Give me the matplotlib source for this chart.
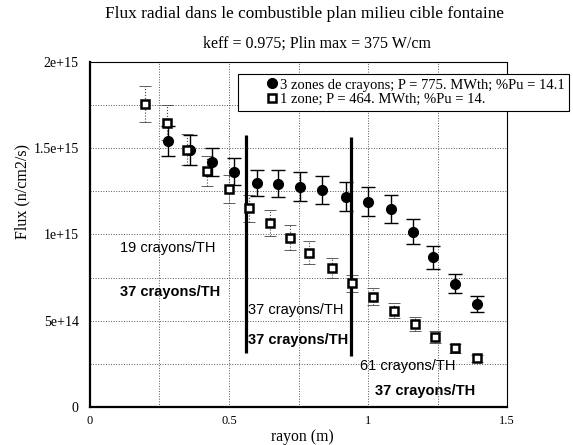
import numpy as np
import matplotlib.pyplot as plt
from matplotlib.ticker import MultipleLocator

SERIF = ['Liberation Serif', 'DejaVu Serif']
SANS = ['Liberation Sans', 'DejaVu Sans']

# 3 zones de crayons (filled circles)
r_3z = [0.282, 0.358, 0.439, 0.517, 0.601, 0.677, 0.754, 0.836, 0.922,
        1.001, 1.082, 1.160, 1.235, 1.313, 1.391]
flux_3z = [1.542, 1.490, 1.418, 1.364, 1.297, 1.293, 1.277, 1.258, 1.219,
           1.190, 1.146, 1.016, 0.868, 0.713, 0.597]
err_3z = [0.085, 0.085, 0.080, 0.077, 0.077, 0.079, 0.082, 0.083, 0.082,
          0.085, 0.082, 0.073, 0.066, 0.055, 0.045]

# 1 zone (open squares)
r_1z = [0.198, 0.276, 0.349, 0.421, 0.499, 0.573, 0.646, 0.719, 0.787,
        0.869, 0.944, 1.016, 1.094, 1.168, 1.242, 1.314, 1.391]
flux_1z = [1.755, 1.648, 1.490, 1.368, 1.262, 1.152, 1.065, 0.982, 0.895,
           0.804, 0.717, 0.639, 0.558, 0.479, 0.408, 0.340, 0.282]
err_1z = [0.105, 0.100, 0.090, 0.085, 0.080, 0.078, 0.077, 0.075, 0.068,
          0.058, 0.050, 0.048, 0.045, 0.040, 0.035, 0.025, 0.020]

scale = 1e15
labels = ['3 zones de crayons; P = 775. MWth; %Pu = 14.1',
          '1 zone; P = 464. MWth; %Pu = 14.']

# zone boundaries (x, ymin, ymax in 1e15)
bound_x = [0.561, 0.940]
bound_ymin = [0.313, 0.296]
bound_ymax = [1.577, 1.563]

# zone annotations: text, x, y (1e15), bold
notes = [('19 crayons/TH', 0.108, 0.92, False),
         ('37 crayons/TH', 0.108, 0.667, True),
         ('37 crayons/TH', 0.568, 0.562, False),
         ('37 crayons/TH', 0.568, 0.388, True),
         ('61 crayons/TH', 0.971, 0.24, False),
         ('37 crayons/TH', 1.024, 0.093, True)]

yticks = [0, 0.5, 1.0, 1.5, 2.0]
yticklabels = ['0', '5e+14', '1e+15', '1.5e+15', '2e+15']
xticks = [0, 0.5, 1.0, 1.5]
xticklabels = ['0', '0.5', '1', '1.5']

fig = plt.figure(figsize=(5.73, 4.45), dpi=100)
ax = fig.add_axes([0.157, 0.0854, 0.728, 0.7756])

y3 = np.array(flux_3z) * scale
y1 = np.array(flux_1z) * scale

eb1 = ax.errorbar(r_1z, y1, yerr=np.array(err_1z) * scale, fmt='none',
                  ecolor='#444444', elinewidth=0.8, capsize=4, capthick=0.6,
                  zorder=3)
eb1[2][0].set_linestyle(':')
for cap in eb1[1]:
    cap.set_color('#888888')

ax.errorbar(r_3z, y3, yerr=np.array(err_3z) * scale, fmt='none',
            ecolor='black', elinewidth=1.0, capsize=5, capthick=1.0, zorder=3)

ax.plot(r_3z, y3, 'o', color='black', markersize=7, label=labels[0], zorder=5)
ax.plot(r_1z, y1, 's', markerfacecolor='white', markeredgecolor='black',
        markeredgewidth=1.8, markersize=6, label=labels[1], zorder=5)

for x, y0, y1b in zip(bound_x, bound_ymin, bound_ymax):
    ax.vlines(x, y0 * scale, y1b * scale, color='black', linewidth=2.3, zorder=4)

for txt, x, y, bold in notes:
    ax.text(x, y * scale, txt, family=SANS, fontsize=10.5,
            fontweight='bold' if bold else 'normal', va='center', ha='left',
            zorder=6)

ax.set_xlim(0, 1.5)
ax.set_ylim(0, 2e15)
ax.set_xticks(xticks)
ax.set_xticklabels(xticklabels, family=SERIF, fontsize=9)
ax.set_yticks(np.array(yticks) * scale)
ax.set_yticklabels(yticklabels, family=SERIF, fontsize=10)
ax.xaxis.set_minor_locator(MultipleLocator(0.25))
ax.yaxis.set_minor_locator(MultipleLocator(0.25e15))
ax.tick_params(which='both', length=0)
ax.tick_params(axis='y', pad=8)
ax.tick_params(axis='x', pad=6)
ax.grid(True, which='both', linestyle=':', color='#555555', linewidth=0.7)
ax.set_axisbelow(True)
for side in ['left', 'bottom']:
    ax.spines[side].set_linewidth(1.6)
for side in ['top', 'right']:
    ax.spines[side].set_linewidth(0.8)

ax.set_xlabel('rayon (m)', family=SERIF, fontsize=11.3)
ax.xaxis.set_label_coords(0.51, -0.064)
ax.set_ylabel('Flux (n/cm2/s)', family=SERIF, fontsize=11.5)
ax.yaxis.set_label_coords(-0.143, 0.623)

leg = ax.legend(loc='upper left', bbox_to_anchor=(0.355, 0.965),
                prop={'family': SERIF, 'size': 10.5}, frameon=True,
                fancybox=False, edgecolor='black', framealpha=1,
                handlelength=4.0, handletextpad=-1.45, borderpad=0.3,
                labelspacing=0.1, borderaxespad=0)
leg.get_frame().set_linewidth(0.8)
leg.set_zorder(10)

fig.text(0.532, 0.969, 'Flux radial dans le combustible plan milieu cible fontaine',
         family=SERIF, fontsize=12.4, ha='center', va='center')
fig.text(0.553, 0.901, 'keff = 0.975; Plin max = 375 W/cm',
         family=SERIF, fontsize=11.5, ha='center', va='center')

fig.savefig('out.png', dpi=100)
